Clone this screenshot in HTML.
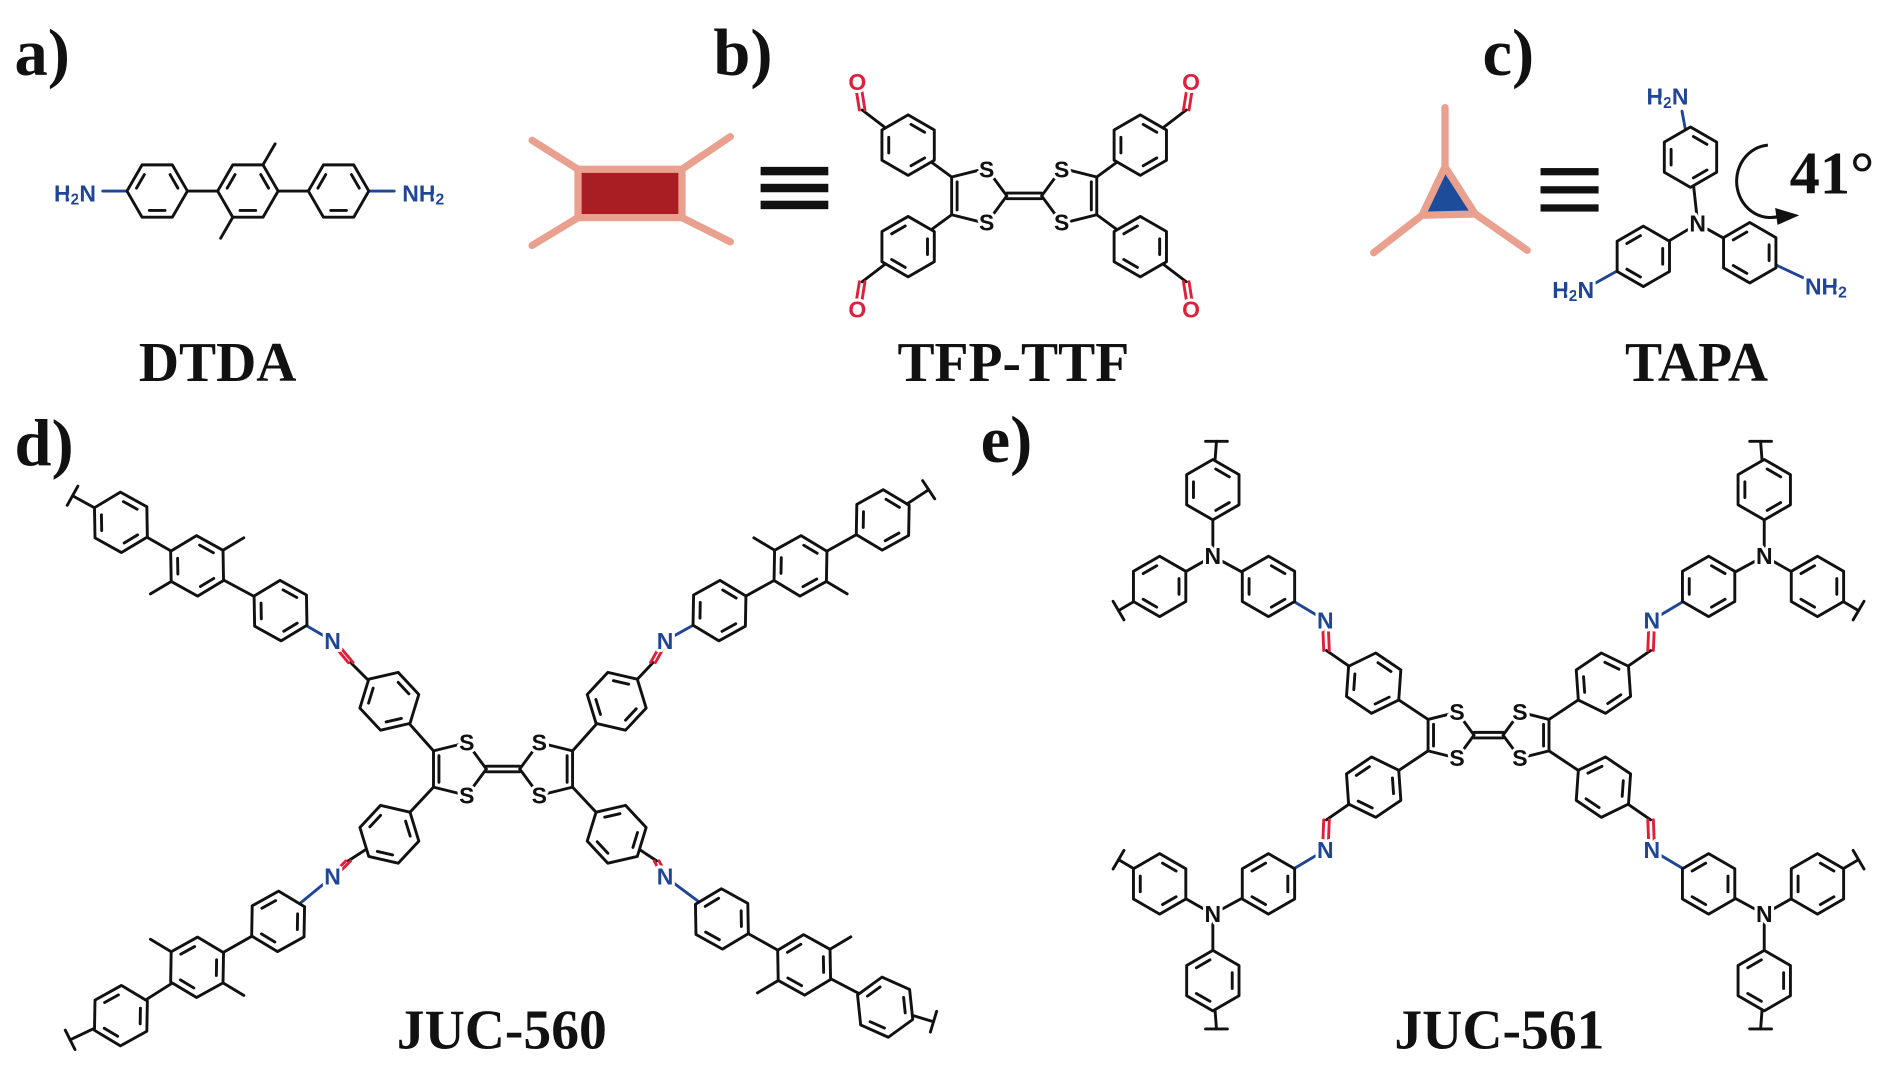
<!DOCTYPE html>
<html><head><meta charset="utf-8">
<style>
html,body{margin:0;padding:0;background:#fff;}
svg{display:block;}
.big{font-family:"Liberation Serif",serif;font-weight:bold;fill:#111;}
.at{font-family:"Liberation Sans",sans-serif;font-weight:bold;font-size:19px;text-anchor:middle;dominant-baseline:central;paint-order:stroke;stroke:#fff;stroke-width:5px;stroke-linejoin:round;}
.bl{fill:#1f4596;}
.bk{fill:#111;}
.rd{fill:#e0203a;}
</style></head>
<body>
<svg width="1890" height="1087" viewBox="0 0 1563 899" preserveAspectRatio="none" xmlns="http://www.w3.org/2000/svg" xmlns:xlink="http://www.w3.org/1999/xlink">
<defs>
<g id="hx">
<polygon points="25,0 12.5,21.65 -12.5,21.65 -25,0 -12.5,-21.65 12.5,-21.65" fill="#fff" stroke="#111" stroke-width="2.4" stroke-linejoin="round"/>
<g stroke="#111" stroke-width="2.4" stroke-linecap="round">
<line x1="6.5" y1="16.02" x2="-6.5" y2="16.02"/>
<line x1="-17.11" y1="-2.4" x2="-10.64" y2="-13.62"/>
<line x1="10.64" y1="-13.62" x2="17.11" y2="-2.4"/>
</g>
</g>
</defs>
<rect width="1563" height="899" fill="#fff"/>

<!-- icons -->
<g stroke="#e9a08e" stroke-width="6" stroke-linecap="round">
 <line x1="478" y1="140" x2="440" y2="116"/>
 <line x1="478" y1="180" x2="440" y2="203"/>
 <line x1="564" y1="140" x2="604" y2="113"/>
 <line x1="564" y1="180" x2="604" y2="200"/>
 <line x1="1195" y1="138" x2="1195" y2="89"/>
 <line x1="1176" y1="178" x2="1136" y2="209"/>
 <line x1="1220" y1="177" x2="1263" y2="207"/>
</g>
<rect x="478" y="140" width="86" height="40" fill="#a81e22" stroke="#e9a08e" stroke-width="6"/>
<polygon points="1195,138 1176,178 1220,177" fill="#1c4c9a" stroke="#e9a08e" stroke-width="6" stroke-linejoin="round"/>
<g fill="#111">
 <rect x="629" y="138" width="56" height="7"/><rect x="629" y="152" width="56" height="7"/><rect x="629" y="166" width="56" height="7"/>
 <rect x="1274" y="139" width="48" height="6"/><rect x="1274" y="154" width="48" height="6"/><rect x="1274" y="169" width="48" height="6"/>
</g>
<path d="M1462,120 A28,30 0 1 0 1474,178" fill="none" stroke="#111" stroke-width="2.5"/>
<polygon points="1468,172 1488,178 1470,186" fill="#111"/>

<!-- bonds -->
<g fill="none" stroke="#111" stroke-width="2.4" stroke-linecap="round" stroke-linejoin="round">
 <line x1="130" y1="158" x2="280" y2="158"/>
 <line x1="217.5" y1="136.3" x2="227.5" y2="119"/>
 <line x1="192.5" y1="179.7" x2="182.5" y2="197"/>
 <line x1="832.6" y1="159.7" x2="861.4" y2="159.7"/><line x1="832.6" y1="164.3" x2="861.4" y2="164.3"/>
 <polyline points="832.6,162 815.8,139.2 787,146.4 787,177.6 815.8,184.8 832.6,162"/>
 <polyline points="861.4,162 878.2,139.2 907,146.4 907,177.6 878.2,184.8 861.4,162"/>
 <line x1="791.5" y1="150.4" x2="791.5" y2="173.6"/><line x1="902.5" y1="150.4" x2="902.5" y2="173.6"/>
 <polyline points="787,146.4 751,120 713,91"/>
 <polyline points="907,146.4 943,120 981,91"/>
 <polyline points="787,177.6 751,204 713,233"/>
 <polyline points="907,177.6 943,204 981,233"/>
 <line x1="1404" y1="185" x2="1398" y2="130"/>
 <line x1="1404" y1="185" x2="1359" y2="212"/>
 <line x1="1404" y1="185" x2="1447" y2="209"/>
 <line x1="402.2" y1="633.7" x2="429.8" y2="633.7"/><line x1="402.2" y1="638.3" x2="429.8" y2="638.3"/>
 <polyline points="402.2,636 386.1,614.2 358.5,621 358.5,651 386.1,657.8 402.2,636"/>
 <polyline points="429.8,636 445.9,614.2 473.5,621 473.5,651 445.9,657.8 429.8,636"/>
 <line x1="363" y1="625" x2="363" y2="647"/><line x1="469" y1="625" x2="469" y2="647"/>
 <polyline points="358.5,621 322,580 290,548"/>
 <polyline points="232,505 163,468 100,432 60,410"/>
 <line x1="55.6" y1="417.9" x2="64.4" y2="402.1"/>
 <polyline points="473.5,621 510,580 540,548"/>
 <polyline points="595,505 662,468 730,430 768,405"/>
 <line x1="763" y1="397.5" x2="773" y2="412.5"/>
 <polyline points="358.5,651 322,690 288,712"/>
 <polyline points="230,762 163,800 100,840 58,860"/>
 <line x1="54" y1="852" x2="62" y2="868"/>
 <polyline points="473.5,651 510,690 543,712"/>
 <polyline points="597,760 665,798 732,833 772,845"/>
 <line x1="774.6" y1="836.4" x2="769.4" y2="853.6"/>
 <line x1="1219" y1="605.7" x2="1243" y2="605.7"/><line x1="1219" y1="610.3" x2="1243" y2="610.3"/>
 <polyline points="1219,608 1205,589 1181,595 1181,621 1205,627 1219,608"/>
 <polyline points="1243,608 1257,589 1281,595 1281,621 1257,627 1243,608"/>
 <line x1="1185.5" y1="599" x2="1185.5" y2="617"/><line x1="1276.5" y1="599" x2="1276.5" y2="617"/>
 <polyline points="1181,595 1136,565 1097,538"/>
 <polyline points="1049,485 1003,460 1003,405 1006,365"/>
 <polyline points="1003,460 959,485 925,505"/>
 <line x1="997" y1="365" x2="1015" y2="365"/><line x1="920.5" y1="497.3" x2="929.5" y2="512.7"/>
 <polyline points="1281,595 1326,565 1365,538"/>
 <polyline points="1413,485 1459,460 1459,405 1456,365"/>
 <polyline points="1459,460 1503,485 1537,505"/>
 <line x1="1447" y1="365" x2="1465" y2="365"/><line x1="1532.5" y1="512.7" x2="1541.5" y2="497.3"/>
 <polyline points="1181,621 1136,651 1097,678"/>
 <polyline points="1049,731 1003,756 1003,811 1006,851"/>
 <polyline points="1003,756 959,731 925,711"/>
 <line x1="997" y1="851" x2="1015" y2="851"/><line x1="920.5" y1="718.7" x2="929.5" y2="703.3"/>
 <polyline points="1281,621 1326,651 1365,678"/>
 <polyline points="1413,731 1459,756 1459,811 1456,851"/>
 <polyline points="1459,756 1503,731 1537,711"/>
 <line x1="1447" y1="851" x2="1465" y2="851"/><line x1="1532.5" y1="703.3" x2="1541.5" y2="718.7"/>
</g>
<g stroke="#1f4596" stroke-width="2.4" stroke-linecap="round">
 <line x1="85" y1="158" x2="130" y2="158"/>
 <line x1="280" y1="158" x2="326" y2="158"/>
 <line x1="1398" y1="130" x2="1391" y2="92"/>
 <line x1="1359" y1="212" x2="1316" y2="236"/>
 <line x1="1447" y1="209" x2="1494" y2="231"/>
 <line x1="275" y1="530" x2="232" y2="505"/>
 <line x1="550" y1="530" x2="595" y2="505"/>
 <line x1="275" y1="725" x2="230" y2="762"/>
 <line x1="550" y1="725" x2="597" y2="760"/>
 <line x1="1096" y1="513" x2="1049" y2="485"/>
 <line x1="1366" y1="513" x2="1413" y2="485"/>
 <line x1="1096" y1="703" x2="1049" y2="731"/>
 <line x1="1366" y1="703" x2="1413" y2="731"/>
</g>
<g stroke="#e0203a" stroke-width="2.4" stroke-linecap="round">
 <line x1="710.7" y1="91" x2="707.7" y2="72"/><line x1="715.3" y1="91" x2="712.3" y2="72"/>
 <line x1="978.7" y1="91" x2="981.7" y2="72"/><line x1="983.3" y1="91" x2="986.3" y2="72"/>
 <line x1="710.7" y1="233" x2="707.7" y2="252"/><line x1="715.3" y1="233" x2="712.3" y2="252"/>
 <line x1="978.7" y1="233" x2="981.7" y2="252"/><line x1="983.3" y1="233" x2="986.3" y2="252"/>
 <line x1="288" y1="548" x2="273" y2="530"/><line x1="292" y1="548" x2="277" y2="530"/>
 <line x1="538" y1="548" x2="548" y2="530"/><line x1="542" y1="548" x2="552" y2="530"/>
 <line x1="286" y1="712" x2="273" y2="725"/><line x1="290" y1="712" x2="277" y2="725"/>
 <line x1="541" y1="712" x2="548" y2="725"/><line x1="545" y1="712" x2="552" y2="725"/>
 <line x1="1094.7" y1="538" x2="1093.7" y2="513"/><line x1="1099.3" y1="538" x2="1098.3" y2="513"/>
 <line x1="1362.7" y1="538" x2="1363.7" y2="513"/><line x1="1367.3" y1="538" x2="1368.3" y2="513"/>
 <line x1="1094.7" y1="678" x2="1093.7" y2="703"/><line x1="1099.3" y1="678" x2="1098.3" y2="703"/>
 <line x1="1362.7" y1="678" x2="1363.7" y2="703"/><line x1="1367.3" y1="678" x2="1368.3" y2="703"/>
</g>

<g>
 <use href="#hx" xlink:href="#hx" transform="translate(130 158)"/>
 <use href="#hx" xlink:href="#hx" transform="translate(205 158)"/>
 <use href="#hx" xlink:href="#hx" transform="translate(280 158)"/>
 <use href="#hx" xlink:href="#hx" transform="translate(751 120) rotate(210)"/>
 <use href="#hx" xlink:href="#hx" transform="translate(943 120) rotate(330)"/>
 <use href="#hx" xlink:href="#hx" transform="translate(751 204) rotate(150)"/>
 <use href="#hx" xlink:href="#hx" transform="translate(943 204) rotate(30)"/>
 <use href="#hx" xlink:href="#hx" transform="translate(1398 130) rotate(90)"/>
 <use href="#hx" xlink:href="#hx" transform="translate(1359 212) rotate(150)"/>
 <use href="#hx" xlink:href="#hx" transform="translate(1447 209) rotate(30)"/>

 <use href="#hx" xlink:href="#hx" transform="translate(322 580) rotate(227)"/>
 <use href="#hx" xlink:href="#hx" transform="translate(232 505) rotate(209)"/>
 <use href="#hx" xlink:href="#hx" transform="translate(163 468) rotate(209)"/>
 <use href="#hx" xlink:href="#hx" transform="translate(100 432) rotate(209)"/>
 <use href="#hx" xlink:href="#hx" transform="translate(510 580) rotate(313)"/>
 <use href="#hx" xlink:href="#hx" transform="translate(595 505) rotate(331)"/>
 <use href="#hx" xlink:href="#hx" transform="translate(662 468) rotate(331)"/>
 <use href="#hx" xlink:href="#hx" transform="translate(730 430) rotate(331)"/>
 <use href="#hx" xlink:href="#hx" transform="translate(322 690) rotate(133)"/>
 <use href="#hx" xlink:href="#hx" transform="translate(230 762) rotate(151)"/>
 <use href="#hx" xlink:href="#hx" transform="translate(163 800) rotate(151)"/>
 <use href="#hx" xlink:href="#hx" transform="translate(100 840) rotate(151)"/>
 <use href="#hx" xlink:href="#hx" transform="translate(510 690) rotate(47)"/>
 <use href="#hx" xlink:href="#hx" transform="translate(597 760) rotate(29)"/>
 <use href="#hx" xlink:href="#hx" transform="translate(665 798) rotate(29)"/>
 <use href="#hx" xlink:href="#hx" transform="translate(732 833) rotate(24)"/>

 <use href="#hx" xlink:href="#hx" transform="translate(1136 565) rotate(214)"/>
 <use href="#hx" xlink:href="#hx" transform="translate(1049 485) rotate(210)"/>
 <use href="#hx" xlink:href="#hx" transform="translate(1003 405) rotate(90)"/>
 <use href="#hx" xlink:href="#hx" transform="translate(959 485) rotate(150)"/>
 <use href="#hx" xlink:href="#hx" transform="translate(1326 565) rotate(326)"/>
 <use href="#hx" xlink:href="#hx" transform="translate(1413 485) rotate(330)"/>
 <use href="#hx" xlink:href="#hx" transform="translate(1459 405) rotate(90)"/>
 <use href="#hx" xlink:href="#hx" transform="translate(1503 485) rotate(30)"/>
 <use href="#hx" xlink:href="#hx" transform="translate(1136 651) rotate(146)"/>
 <use href="#hx" xlink:href="#hx" transform="translate(1049 731) rotate(150)"/>
 <use href="#hx" xlink:href="#hx" transform="translate(1003 811) rotate(270)"/>
 <use href="#hx" xlink:href="#hx" transform="translate(959 731) rotate(210)"/>
 <use href="#hx" xlink:href="#hx" transform="translate(1326 651) rotate(34)"/>
 <use href="#hx" xlink:href="#hx" transform="translate(1413 731) rotate(30)"/>
 <use href="#hx" xlink:href="#hx" transform="translate(1459 811) rotate(270)"/>
 <use href="#hx" xlink:href="#hx" transform="translate(1503 731) rotate(330)"/>
</g>
<g stroke="#111" stroke-width="2.4" stroke-linecap="round">
 <line x1="184.4" y1="455.1" x2="201.6" y2="444.8"/><line x1="141.6" y1="480.9" x2="124.4" y2="491.2"/>
 <line x1="640.6" y1="455.1" x2="623.4" y2="444.8"/><line x1="683.4" y1="480.9" x2="700.6" y2="491.2"/>
 <line x1="141.6" y1="787.1" x2="124.4" y2="776.8"/><line x1="184.4" y1="812.9" x2="201.6" y2="823.2"/>
 <line x1="686.4" y1="785.1" x2="703.6" y2="774.8"/><line x1="643.6" y1="810.9" x2="626.4" y2="821.2"/>
</g>

<text class="big" x="12" y="62" font-size="55">a)</text>
<text class="big" x="590" y="62" font-size="55">b)</text>
<text class="big" x="1226" y="62" font-size="55">c)</text>
<text class="big" x="12" y="385" font-size="55">d)</text>
<text class="big" x="811" y="382" font-size="55">e)</text>
<text class="big" x="1480" y="160" font-size="50">41°</text>
<text class="big" x="180" y="315" font-size="46" text-anchor="middle">DTDA</text>
<text class="big" x="838" y="315" font-size="46" text-anchor="middle">TFP-TTF</text>
<text class="big" x="1403" y="315" font-size="46" text-anchor="middle">TAPA</text>
<text class="big" x="415" y="867" font-size="46" text-anchor="middle">JUC-560</text>
<text class="big" x="1240" y="867" font-size="46" text-anchor="middle">JUC-561</text>

<g>
<text class="at bl" x="62" y="160">H<tspan font-size="13" dy="5">2</tspan><tspan dy="-5">N</tspan></text>
<text class="at bl" x="350" y="160">NH<tspan font-size="13" dy="5">2</tspan></text>
<text class="at bl" x="1379" y="80">H<tspan font-size="13" dy="5">2</tspan><tspan dy="-5">N</tspan></text>
<text class="at bl" x="1301" y="240">H<tspan font-size="13" dy="5">2</tspan><tspan dy="-5">N</tspan></text>
<text class="at bl" x="1510" y="237">NH<tspan font-size="13" dy="5">2</tspan></text>
<text class="at bk" x="1404" y="185">N</text>

<text class="at bk" x="816" y="140">S</text><text class="at bk" x="816" y="184">S</text>
<text class="at bk" x="878" y="140">S</text><text class="at bk" x="878" y="184">S</text>
<text class="at rd" x="709" y="68">O</text><text class="at rd" x="985" y="68">O</text>
<text class="at rd" x="709" y="256">O</text><text class="at rd" x="985" y="256">O</text>

<text class="at bk" x="386" y="614">S</text><text class="at bk" x="386" y="658">S</text>
<text class="at bk" x="446" y="614">S</text><text class="at bk" x="446" y="658">S</text>
<text class="at bl" x="275" y="530">N</text><text class="at bl" x="550" y="530">N</text>
<text class="at bl" x="275" y="725">N</text><text class="at bl" x="550" y="725">N</text>

<text class="at bk" x="1205" y="589">S</text><text class="at bk" x="1205" y="627">S</text>
<text class="at bk" x="1257" y="589">S</text><text class="at bk" x="1257" y="627">S</text>
<text class="at bl" x="1096" y="513">N</text><text class="at bl" x="1366" y="513">N</text>
<text class="at bl" x="1096" y="703">N</text><text class="at bl" x="1366" y="703">N</text>
<text class="at bk" x="1003" y="460">N</text><text class="at bk" x="1459" y="460">N</text>
<text class="at bk" x="1003" y="756">N</text><text class="at bk" x="1459" y="756">N</text>
</g>
</svg>
</body></html>
